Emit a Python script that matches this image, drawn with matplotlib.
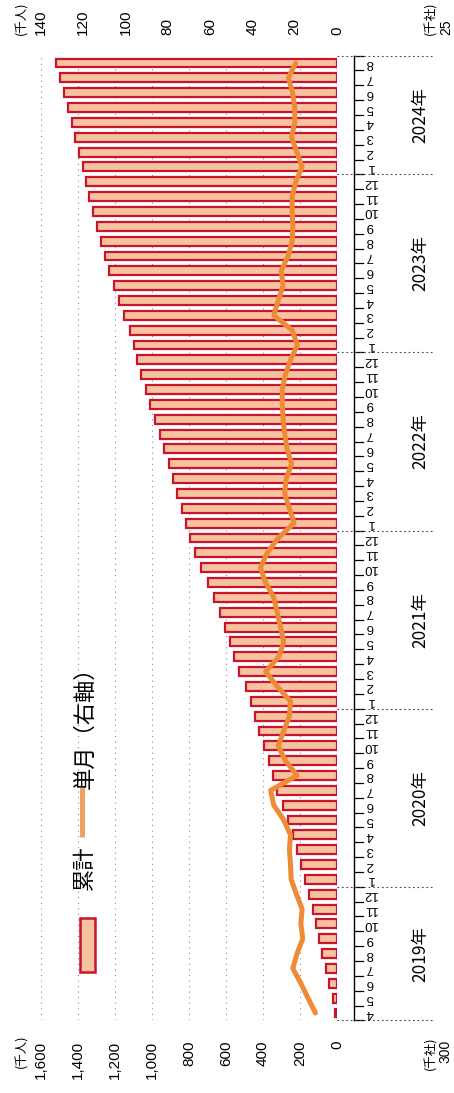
import numpy as np
import pandas as pd
import matplotlib
matplotlib.use("Agg")
import matplotlib.pyplot as plt
import matplotlib.transforms as mtransforms
from matplotlib import font_manager
from matplotlib.patches import Rectangle
from matplotlib.lines import Line2D

# 2019年4月 ～ 2024年8月
periods = pd.period_range("2019-04", "2024-08", freq="M")
month_labels = [str(p.month) for p in periods]
years = [2019, 2020, 2021, 2022, 2023, 2024]

# 単月（千人）
monthly = [10.2, 13.7, 17.1, 20.9, 18.9, 16.2, 17.1, 16.5, 19.2,
           21.7, 22.0, 22.5, 22.0, 25.2, 29.9, 31.4, 18.9, 24.4, 27.8, 25.2, 22.5,
           22.0, 28.3, 33.8, 27.5, 25.2, 26.7, 28.3, 29.9, 33.8, 36.2, 33.0, 27.8,
           20.3, 22.5, 24.8, 24.0, 21.5, 23.6, 24.7, 25.5, 25.9, 25.9, 24.4, 22.0,
           18.7, 21.2, 29.9, 27.8, 25.5, 26.4, 23.1, 21.2, 20.9, 21.2, 21.2, 19.5,
           16.5, 19.0, 21.5, 20.0, 20.0, 21.0, 23.0, 19.5]

# 累計（千人）
cumulative = [10.2, 23.9, 41.0, 61.9, 80.8, 97.0, 114.1, 130.6, 149.8,
              171.5, 193.5, 216.0, 238.0, 263.2, 293.1, 324.5, 343.4, 367.8, 395.6, 420.8, 443.3,
              465.3, 493.6, 527.4, 554.9, 580.1, 606.8, 635.1, 665.0, 698.8, 735.0, 768.0, 795.8,
              816.1, 838.6, 863.4, 887.4, 908.9, 932.5, 957.2, 982.7, 1008.6, 1034.5, 1058.9, 1080.9,
              1099.6, 1120.8, 1150.7, 1178.5, 1204.0, 1230.4, 1253.5, 1274.7, 1295.6, 1316.8, 1338.0, 1357.5,
              1374.0, 1393.0, 1414.5, 1434.5, 1454.5, 1475.5, 1498.5, 1518.0]

left_ticks = [0, 200, 400, 600, 800, 1000, 1200, 1400, 1600]
right_ticks = [0, 20, 40, 60, 80, 100, 120, 140]

BAR_FILL = "#f6c3a0"
BAR_EDGE = "#c8142c"
LINE_COL = "#ef8a36"

W, H = 454, 1093
available = {f.name for f in font_manager.fontManager.ttflist}
num_font = "Liberation Sans Narrow" if "Liberation Sans Narrow" in available else "Liberation Sans"
plt.rcParams["font.family"] = ["Noto Sans CJK JP", "DejaVu Sans"]


def fx(x):
    return x / W


def fy(y):
    return 1 - y / H


fig = plt.figure(figsize=(W / 100, H / 100), dpi=100)
# chart is laid out sideways: time runs bottom -> top, values grow to the left
ax_l, ax_r, ax_t, ax_b = 41, 337, 55.6, 1020.4
ax = fig.add_axes([fx(ax_l), fy(ax_b), (ax_r - ax_l) / W, (ax_b - ax_t) / H])

pos = np.arange(len(periods))
n = len(pos)

for v in left_ticks[1:]:
    ax.axvline(v, color="#8a8a8a", ls=(0, (1, 4)), lw=0.8, zorder=0)
ax.axvline(0, color="#333333", ls=(0, (2, 2)), lw=0.9, zorder=3)

ax.barh(pos, cumulative, height=0.6, color=BAR_FILL, edgecolor=BAR_EDGE,
        linewidth=1.6, zorder=2)
ax.set_xlim(1600, 0)
ax.set_ylim(-0.5, n - 0.5)
ax.set_yticks([])
ax.set_xticks(left_ticks)
ax.set_xticklabels([f"{v:,}" for v in left_ticks], rotation=90,
                   fontfamily=num_font, fontsize=11)
ax.tick_params(axis="x", length=0, pad=14.5)
for s in ax.spines.values():
    s.set_visible(False)

ax2 = ax.twiny()
ax2.plot(monthly, pos, color=LINE_COL, lw=3.6, solid_joinstyle="round",
         solid_capstyle="round", zorder=4)
ax2.set_xlim(140, 0)
ax2.set_xticks(right_ticks)
ax2.set_xticklabels([str(v) for v in right_ticks], rotation=90,
                    fontfamily=num_font, fontsize=11)
ax2.tick_params(axis="x", length=0, pad=15)
for s in ax2.spines.values():
    s.set_visible(False)

# month axis (comb) on the right
trans = mtransforms.blended_transform_factory(ax.transAxes, ax.transData)


def xa(x):
    return (x - ax_l) / (ax_r - ax_l)


ax.plot([xa(354), xa(354)], [-0.5, n - 0.5], transform=trans, color="black",
        lw=1.0, clip_on=False)
for b in np.arange(-0.5, n):
    ax.plot([xa(354), xa(363)], [b, b], transform=trans, color="black",
            lw=0.9, clip_on=False)
for p, lab in zip(pos, month_labels):
    ax.text(xa(370), p, lab, rotation=180, ha="center", va="center",
            transform=trans, fontsize=9.5, fontfamily=num_font)

# year separators and year labels
bounds = [-0.5] + [p + 0.5 for p, per in zip(pos, periods) if per.month == 12] + [n - 0.5]
for b in bounds:
    ax.plot([xa(337), xa(432)], [b, b], transform=trans, color="#444444",
            ls=(0, (1.5, 2.5)), lw=0.8, clip_on=False)
for yr in years:
    idx = [p for p, per in zip(pos, periods) if per.year == yr]
    ax.text(xa(420), np.mean(idx), f"{yr}年", rotation=90, ha="center",
            va="center", transform=trans, fontsize=12.5)

# axis units
fig.text(fx(22), fy(1034), "(千人)", rotation=90, ha="center", va="top", fontsize=9)
fig.text(fx(22), fy(35), "(千人)", rotation=90, ha="center", va="bottom", fontsize=9)
fig.text(fx(431), fy(1036), "(千社)", rotation=90, ha="center", va="top", fontsize=9)
fig.text(fx(445), fy(1040), "300", rotation=90, ha="center", va="top", fontsize=10,
         fontfamily=num_font)
fig.text(fx(431), fy(35), "(千社)", rotation=90, ha="center", va="bottom", fontsize=9)
fig.text(fx(446), fy(35), "25", rotation=90, ha="center", va="bottom", fontsize=10,
         fontfamily=num_font)

# legend
fig.patches.append(Rectangle((fx(80), fy(972)), 15 / W, 54 / H, transform=fig.transFigure,
                             facecolor=BAR_FILL, edgecolor=BAR_EDGE, lw=1.8))
fig.text(fx(84), fy(868), "累計", rotation=90, ha="center", va="center", fontsize=16)
fig.lines.append(Line2D([fx(82), fx(82)], [fy(837), fy(787)], transform=fig.transFigure,
                        color="#f0a060", lw=3.6, solid_capstyle="butt"))
fig.text(fx(85), fy(722), "単月（右軸）", rotation=90, ha="center", va="center", fontsize=16)

fig.savefig("out.png", dpi=100)
